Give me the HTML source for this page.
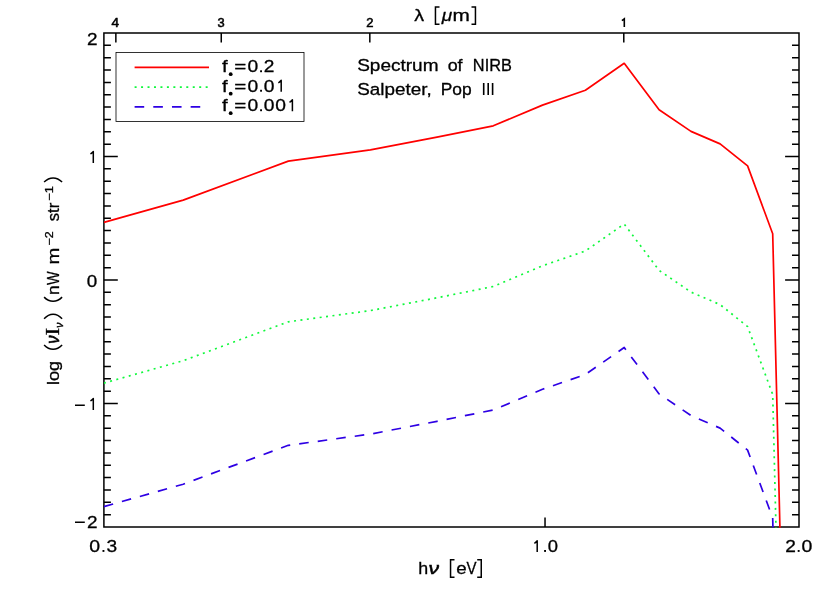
<!DOCTYPE html><html><head><meta charset="utf-8"><title>Spectrum of NIRB</title><style>html,body{margin:0;padding:0;background:#fff}svg{display:block;will-change:transform}text{font-family:"Liberation Sans",sans-serif;fill:#000;stroke:#000;stroke-width:0.3px}</style></head><body>
<svg width="830" height="593" viewBox="0 0 830 593">
<rect width="830" height="593" fill="#fff"/>
<defs><clipPath id="c"><rect x="103.9" y="33.0" width="695.1" height="494.8"/></clipPath></defs>
<g stroke="#000" stroke-width="1.5" fill="none">
<rect x="103.90" y="33.00" width="695.10" height="494.00"/>
<path d="M103.90,514.65h7.0M799.00,514.65h-7.0M103.90,502.30h7.0M799.00,502.30h-7.0M103.90,489.95h7.0M799.00,489.95h-7.0M103.90,477.60h7.0M799.00,477.60h-7.0M103.90,465.25h7.0M799.00,465.25h-7.0M103.90,452.90h7.0M799.00,452.90h-7.0M103.90,440.55h7.0M799.00,440.55h-7.0M103.90,428.20h7.0M799.00,428.20h-7.0M103.90,415.85h7.0M799.00,415.85h-7.0M103.90,403.50h13.9M799.00,403.50h-13.9M103.90,391.15h7.0M799.00,391.15h-7.0M103.90,378.80h7.0M799.00,378.80h-7.0M103.90,366.45h7.0M799.00,366.45h-7.0M103.90,354.10h7.0M799.00,354.10h-7.0M103.90,341.75h7.0M799.00,341.75h-7.0M103.90,329.40h7.0M799.00,329.40h-7.0M103.90,317.05h7.0M799.00,317.05h-7.0M103.90,304.70h7.0M799.00,304.70h-7.0M103.90,292.35h7.0M799.00,292.35h-7.0M103.90,280.00h13.9M799.00,280.00h-13.9M103.90,267.65h7.0M799.00,267.65h-7.0M103.90,255.30h7.0M799.00,255.30h-7.0M103.90,242.95h7.0M799.00,242.95h-7.0M103.90,230.60h7.0M799.00,230.60h-7.0M103.90,218.25h7.0M799.00,218.25h-7.0M103.90,205.90h7.0M799.00,205.90h-7.0M103.90,193.55h7.0M799.00,193.55h-7.0M103.90,181.20h7.0M799.00,181.20h-7.0M103.90,168.85h7.0M799.00,168.85h-7.0M103.90,156.50h13.9M799.00,156.50h-13.9M103.90,144.15h7.0M799.00,144.15h-7.0M103.90,131.80h7.0M799.00,131.80h-7.0M103.90,119.45h7.0M799.00,119.45h-7.0M103.90,107.10h7.0M799.00,107.10h-7.0M103.90,94.75h7.0M799.00,94.75h-7.0M103.90,82.40h7.0M799.00,82.40h-7.0M103.90,70.05h7.0M799.00,70.05h-7.0M103.90,57.70h7.0M799.00,57.70h-7.0M103.90,45.35h7.0M799.00,45.35h-7.0M545.03,527.00v-9.6M623.79,33.00v9.6M369.82,33.00v9.6M221.26,33.00v9.6M115.86,33.00v9.6"/>
</g>
<g clip-path="url(#c)" fill="none" stroke-width="1.7" stroke-linejoin="round">
<path d="M103.9,222.4 L183.2,200.1 L288.3,161.1 L370.4,149.9 L437.0,137.1 L493.3,125.8 L542.5,105.1 L585.4,90.3 L624.2,63.3 L659.1,109.7 L691.0,131.4 L720.1,143.9 L747.6,165.9 L772.7,233.8 L796.2,1189.0" stroke="#ff0000"/>
<path d="M103.9,383.1 L183.2,360.7 L288.3,321.8 L370.4,310.6 L437.0,297.8 L493.3,286.5 L542.5,265.8 L585.4,251.0 L624.2,224.0 L659.1,270.4 L691.0,292.1 L720.1,304.6 L747.6,326.6 L772.7,394.5 L796.2,1349.7" stroke="#10f83c" stroke-dasharray="2 4.46"/>
<path d="M103.9,506.6 L183.2,484.2 L288.3,445.3 L370.4,434.1 L437.0,421.3 L493.3,410.0 L542.5,389.3 L585.4,374.5 L624.2,347.5 L659.1,393.9 L691.0,415.6 L720.1,428.1 L747.6,450.1 L772.7,518.0 L796.2,1473.2" stroke="#2e00e4" stroke-dasharray="9.6 9.08"/>
</g>
<rect x="116" y="52.5" width="188" height="69" fill="none" stroke="#000" stroke-width="0.8"/>
<g fill="none" stroke-width="1.7">
<path d="M134.6,67.4H209" stroke="#ff0000"/>
<path d="M134.6,87.2H209" stroke="#10f83c" stroke-dasharray="2 4.46"/>
<path d="M134.6,106.8H209" stroke="#2e00e4" stroke-dasharray="9.6 9.08"/>
</g>
<text transform="translate(221.89,72.20) scale(1.1987,1.0000)" font-size="17">f</text>
<circle cx="230.7" cy="74.2" r="1.9"/>
<text transform="translate(234.17,72.20) scale(1.2129,1.0000)" font-size="17">=</text>
<text transform="translate(247.43,72.20) scale(1.1334,1.0000)" font-size="17">0</text>
<rect x="260.10" y="70.30" width="1.90" height="1.90"/>
<text transform="translate(263.64,72.20) scale(1.1248,1.0000)" font-size="17">2</text>
<text transform="translate(221.89,91.70) scale(1.1987,1.0000)" font-size="17">f</text>
<circle cx="230.7" cy="93.7" r="1.9"/>
<text transform="translate(234.17,91.70) scale(1.2129,1.0000)" font-size="17">=</text>
<text transform="translate(247.43,91.70) scale(1.1334,1.0000)" font-size="17">0</text>
<rect x="260.10" y="89.80" width="1.90" height="1.90"/>
<text transform="translate(263.63,91.70) scale(1.1334,1.0000)" font-size="17">0</text>
<path d="M278.30,82.72L279.46,82.14L281.20,80.40V91.70" fill="none" stroke="#000" stroke-width="1.50" stroke-linejoin="round"/>
<text transform="translate(221.89,111.20) scale(1.1987,1.0000)" font-size="17">f</text>
<circle cx="230.7" cy="113.2" r="1.9"/>
<text transform="translate(234.17,111.20) scale(1.2129,1.0000)" font-size="17">=</text>
<text transform="translate(247.43,111.20) scale(1.1334,1.0000)" font-size="17">0</text>
<rect x="260.10" y="109.30" width="1.90" height="1.90"/>
<text transform="translate(263.63,111.20) scale(1.1334,1.0000)" font-size="17">0</text>
<text transform="translate(275.13,111.20) scale(1.1334,1.0000)" font-size="17">0</text>
<path d="M289.50,102.22L290.66,101.64L292.40,99.90V111.20" fill="none" stroke="#000" stroke-width="1.50" stroke-linejoin="round"/>
<text transform="translate(357.14,70.70) scale(1.1200,1.0000)" font-size="17">Spectrum</text>
<text transform="translate(447.64,70.70) scale(1.0540,1.0000)" font-size="17">of</text>
<text transform="translate(472.85,70.70) scale(0.9600,1.0000)" font-size="17">NIRB</text>
<text transform="translate(357.15,94.90) scale(1.1109,1.0000)" font-size="17">Salpeter,</text>
<text transform="translate(440.76,94.90) scale(1.0236,1.0000)" font-size="17">Pop</text>
<path d="M483.7,82.9v12M488.2,82.9v12M492.6,82.9v12" stroke="#000" stroke-width="1.6"/>
<path d="M90.40,153.82L91.56,153.24L93.30,151.50V163.00" fill="none" stroke="#000" stroke-width="1.50" stroke-linejoin="round"/>
<path d="M90.40,400.82L91.56,400.24L93.30,398.50V410.00" fill="none" stroke="#000" stroke-width="1.50" stroke-linejoin="round"/>
<text transform="translate(87.05,45.00) scale(1.1118,1.0000)" font-size="17">2</text>
<text transform="translate(86.85,286.50) scale(1.1087,1.0000)" font-size="17">0</text>
<text transform="translate(87.05,527.70) scale(1.1118,1.0000)" font-size="17">2</text>
<path d="M75,405.3h9.8M75,522.2h9.8" stroke="#000" stroke-width="1.5"/>
<text transform="translate(89.32,552.00) scale(1.1457,1.0000)" font-size="17">0</text>
<rect x="102.50" y="550.00" width="1.90" height="1.90"/>
<text transform="translate(106.38,552.00) scale(1.1269,1.0000)" font-size="17">3</text>
<path d="M534.30,543.22L535.46,542.64L537.20,540.90V551.90" fill="none" stroke="#000" stroke-width="1.50" stroke-linejoin="round"/>
<rect x="544.10" y="550.00" width="1.90" height="1.90"/>
<text transform="translate(547.86,552.00) scale(1.0841,1.0000)" font-size="17">0</text>
<text transform="translate(785.24,552.00) scale(1.1248,1.0000)" font-size="17">2</text>
<rect x="797.70" y="550.00" width="1.90" height="1.90"/>
<text transform="translate(801.62,552.00) scale(1.1457,1.0000)" font-size="17">0</text>
<text transform="translate(111.60,27.00) scale(1.1037,1.0000)" font-size="12.2" style="stroke-width:0.55px">4</text>
<text transform="translate(217.62,27.10) scale(1.0526,1.0000)" font-size="12.2" style="stroke-width:0.55px">3</text>
<text transform="translate(366.25,27.00) scale(1.0629,1.0000)" font-size="12.2" style="stroke-width:0.55px">2</text>
<path d="M621.9,20.7L624.3,18.9V26.9" fill="none" stroke="#000" stroke-width="1.6" stroke-linejoin="miter"/>
<text transform="translate(414.15,20.70) scale(1.1582,1.0000)" font-size="17">λ</text>
<text transform="translate(441.68,20.70) scale(1.1179,1.0000)" font-size="17" font-style="italic">μ</text>
<text transform="translate(452.39,20.70) scale(1.2269,1.0000)" font-size="17">m</text>
<path d="M439.5,6.95H435.45V24.25H439.5M471.5,6.95H475.45V24.25H471.5" fill="none" stroke="#000" stroke-width="1.5"/>
<text transform="translate(418.15,573.50) scale(1.0504,1.0000)" font-size="17">h</text>
<text transform="translate(428.60,573.50) scale(1.2426,1.0000)" font-size="17" font-style="italic" style="stroke-width:0.5px">ν</text>
<text transform="translate(456.30,573.50) scale(1.1014,1.0000)" font-size="17">e</text>
<text transform="translate(466.52,573.50) scale(0.8857,1.0000)" font-size="17">V</text>
<path d="M454.5,559.75H450.55V577.25H454.5M477.2,559.75H481.25V577.25H477.2" fill="none" stroke="#000" stroke-width="1.5"/>
<text transform="translate(58.80,384.00) rotate(-90) translate(-1.02,0.00) scale(1.0664,1.0000)" font-size="17">log</text>
<path transform="translate(58.80,384.00) rotate(-90)" d="M39.05,-14.70C33.32,-9.20 33.32,-2.20 39.05,3.30" fill="none" stroke="#000" stroke-width="1.5"/>
<text transform="translate(58.80,384.00) rotate(-90) translate(40.22,0.00) scale(0.9650,1.0400)" font-size="17" font-style="italic" style="stroke-width:0.6px">ν</text>
<text transform="translate(58.80,384.00) rotate(-90) translate(48.59,0.00) scale(1.3669,1.1000)" font-size="17" style="font-family:'Liberation Serif'">I</text>
<text transform="translate(58.80,384.00) rotate(-90) translate(56.22,4.20) scale(0.9193,1.0000)" font-size="11" font-style="italic" style="stroke-width:0.5px">ν</text>
<path transform="translate(58.80,384.00) rotate(-90)" d="M65.35,-14.70C71.35,-9.20 71.35,-2.20 65.35,3.30" fill="none" stroke="#000" stroke-width="1.5"/>
<path transform="translate(58.80,384.00) rotate(-90)" d="M86.85,-14.70C81.38,-9.20 81.38,-2.20 86.85,3.30" fill="none" stroke="#000" stroke-width="1.5"/>
<text transform="translate(58.80,384.00) rotate(-90) translate(89.03,0.00) scale(1.0164,1.0000)" font-size="17">n</text>
<text transform="translate(58.80,384.00) rotate(-90) translate(98.93,0.00) scale(0.8493,1.0000)" font-size="17">W</text>
<text transform="translate(58.80,384.00) rotate(-90) translate(119.43,0.00) scale(1.1933,1.0000)" font-size="17">m</text>
<text transform="translate(58.80,384.00) rotate(-90) translate(138.38,-6.20) scale(1.1364,1.0000)" font-size="11">−2</text>
<text transform="translate(58.80,384.00) rotate(-90) translate(162.74,0.00) scale(0.9809,1.0000)" font-size="17">str</text>
<text transform="translate(58.80,384.00) rotate(-90) translate(183.15,-6.20) scale(1.1772,1.0000)" font-size="11">−1</text>
<path transform="translate(58.80,384.00) rotate(-90)" d="M201.95,-14.70C207.42,-9.20 207.42,-2.20 201.95,3.30" fill="none" stroke="#000" stroke-width="1.5"/>
</svg></body></html>
